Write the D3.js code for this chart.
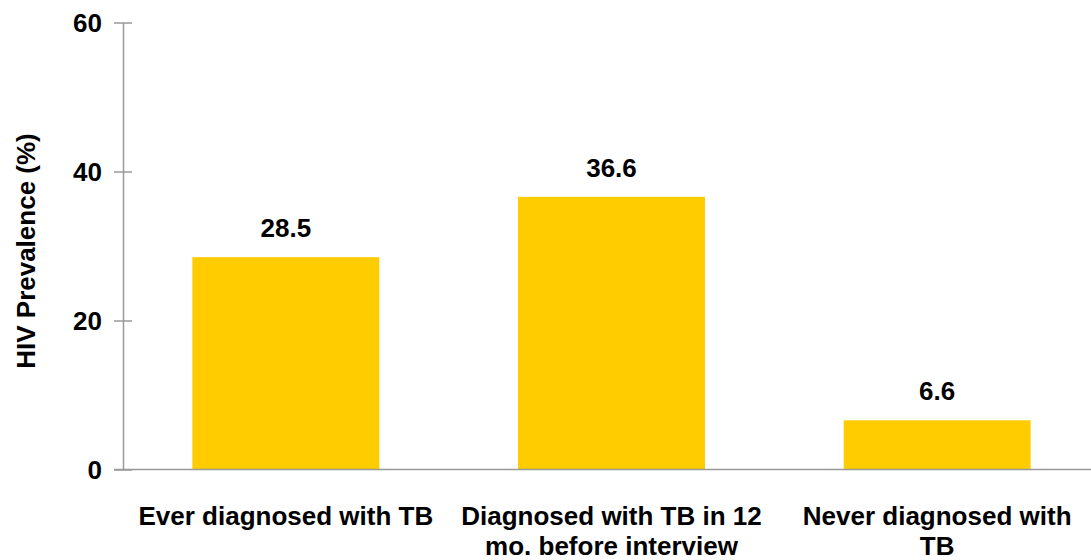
<!DOCTYPE html>
<html><head><meta charset="utf-8">
<script src="https://cdn.jsdelivr.net/npm/d3@7"></script>
<style>body{margin:0;background:#fff}svg{display:block}text{font-family:"Liberation Sans",Arial,sans-serif;font-weight:bold;fill:#000}</style>
</head><body><svg id="c" width="1091" height="560"></svg>
<script>
const categories = [["Ever diagnosed with TB"], ["Diagnosed with TB in 12", "mo. before interview"], ["Never diagnosed with", "TB"]];
const values = [28.5, 36.6, 6.6];
const yTicks = [0, 20, 40, 60];
const yTitle = "HIV Prevalence (%)";

const svg = d3.select("#c");
const x = d3.scaleBand().domain(d3.range(values.length)).range([123, 1100]).paddingInner(0.426).paddingOuter(0.213);
const y = d3.scaleLinear().domain([0, 60]).range([469.5, 22.5]);

// bars
svg.selectAll("rect.bar").data(values).join("rect")
  .attr("x", (d,i)=>x(i)).attr("width", x.bandwidth())
  .attr("y", d=>y(d)).attr("height", d=>y(0)-y(d)).attr("fill", "#FFCC00");

// axes
const gy = svg.append("g").attr("transform","translate(123,0)")
  .call(d3.axisLeft(y).tickValues(yTicks).tickSize(9).tickSizeOuter(0).tickPadding(12));
gy.select(".domain").attr("stroke","#999").attr("stroke-width",1.5);
gy.selectAll(".tick line").attr("stroke","#999").attr("stroke-width",1.5).attr("x2",-9).attr("x1",9);
gy.selectAll(".tick text").style("font-size","26px").attr("dy","0.35em").attr("x",-21);

svg.append("line").attr("x1",114).attr("x2",1091).attr("y1",y(0)).attr("y2",y(0)).attr("stroke","#999").attr("stroke-width",1.5);

// value labels
svg.selectAll("text.val").data(values).join("text").attr("class","val")
  .attr("x",(d,i)=>x(i)+x.bandwidth()/2).attr("y",d=>y(d)-20)
  .attr("text-anchor","middle").style("font-size","26px").text(d=>d.toFixed(1));

// category labels
const cl = svg.selectAll("text.cat").data(categories).join("text").attr("class","cat")
  .attr("x",(d,i)=>x(i)+x.bandwidth()/2).attr("y",525)
  .attr("text-anchor","middle").style("font-size","26px");
cl.selectAll("tspan").data(d=>d).join("tspan")
  .attr("x",function(){return this.parentNode.getAttribute("x");})
  .attr("dy",(d,i)=>i?"30":"0").text(d=>d);

svg.append("text").attr("transform","translate(35,251) rotate(-90)").attr("text-anchor","middle")
  .style("font-size","26px").text(yTitle);
</script></body></html>
